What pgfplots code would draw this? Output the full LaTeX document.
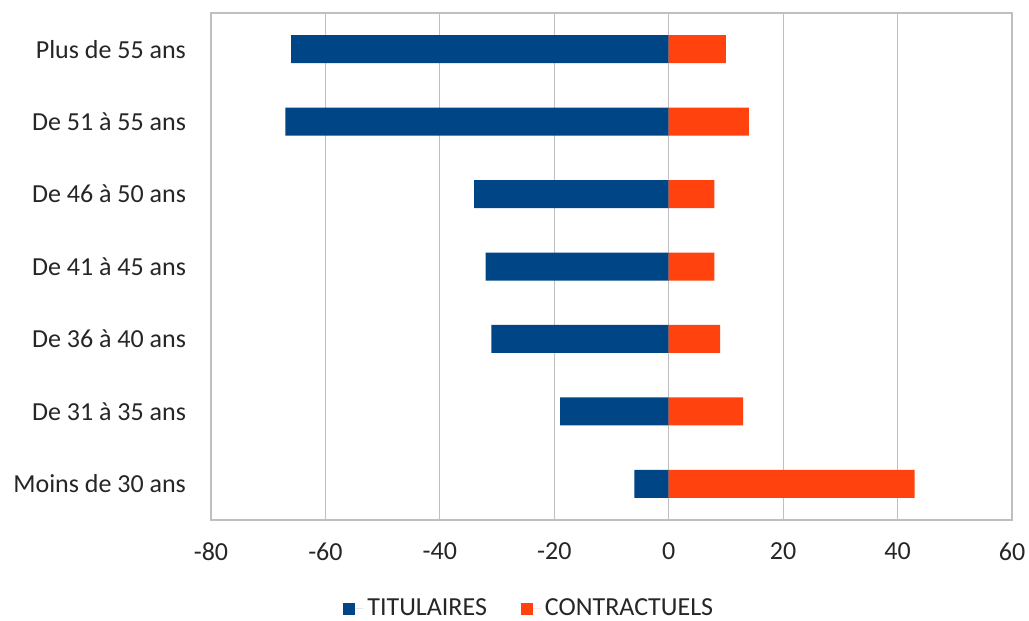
\documentclass[border=0pt]{standalone}
\usepackage{pgfplots}
\pgfplotsset{compat=1.18}
\usepackage{fontspec}
\setmainfont{Carlito}
\definecolor{tblue}{HTML}{004586}
\definecolor{torange}{HTML}{FF420E}
\definecolor{gridc}{HTML}{BFBFBF}
\begin{document}
\begin{tikzpicture}[x=1pt,y=1pt]
\path[use as bounding box] (-105.5,-50.5) rectangle (409,260);
\begin{axis}[
  at={(0,0)}, anchor=south west,
  scale only axis,
  width=400.5pt, height=253.5pt,
  xmin=-80, xmax=60,
  ymin=-0.5, ymax=6.5,
  xtick={-80,-60,...,60},
  ytick={0,...,6},
  yticklabels={Moins de 30 ans,De 31 à 35 ans,De 36 à 40 ans,De 41 à 45 ans,De 46 à 50 ans,De 51 à 55 ans,Plus de 55 ans},
  xmajorgrids,
  major grid style={gridc, line width=0.6pt},
  axis line style={gridc, line width=0.6pt},
  major tick length=0pt,
  tick style={draw=none},
  /pgf/number format/assume math mode=true,
  ticklabel style={font=\fontsize{13}{15}\selectfont, text=black!85},
  xticklabel style={yshift=-8pt},
  yticklabel style={xshift=-9pt},
  xbar, bar width=14pt, bar shift=0pt,
  legend style={at={(0.1648,-44.5pt)}, anchor=west, draw=none, legend columns=2,
    font=\fontsize{13}{15}\selectfont, text=black!85, inner sep=0pt,
    /tikz/every even column/.append style={column sep=15pt}},
  legend image code/.code={\fill[#1] (0pt,-3.2pt) rectangle (6pt,2.8pt); \path (6pt,0pt) -- (10pt,0pt);},
]
\addplot[fill=tblue, draw=none] coordinates {(-6,0) (-19,1) (-31,2) (-32,3) (-34,4) (-67,5) (-66,6)};
\addplot[fill=torange, draw=none] coordinates {(43,0) (13,1) (9,2) (8,3) (8,4) (14,5) (10,6)};
\legend{TITULAIRES, CONTRACTUELS}
\end{axis}
\end{tikzpicture}
\end{document}
